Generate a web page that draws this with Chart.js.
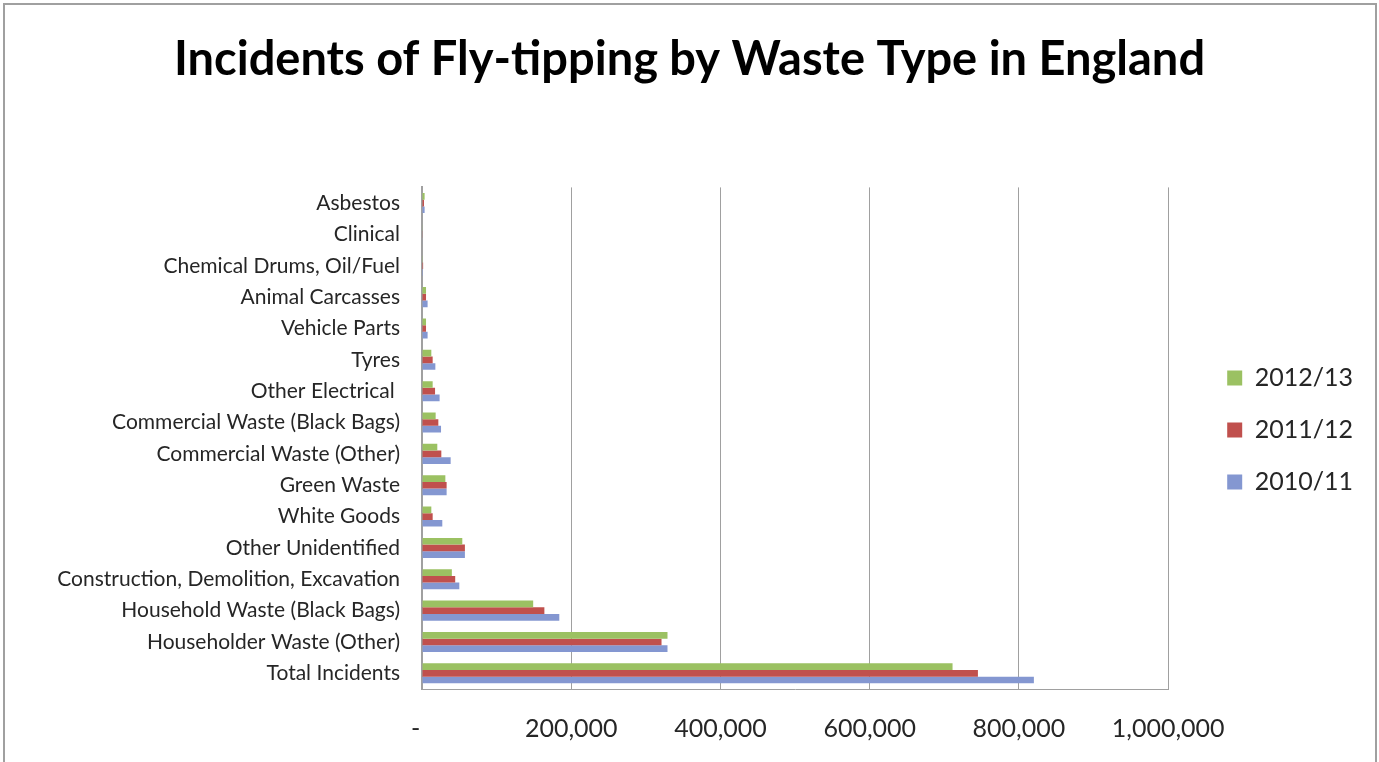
<!DOCTYPE html>
<html>
<head>
<meta charset="utf-8">
<script src="https://cdn.jsdelivr.net/npm/chart.js@4"></script>
<style>
  html, body { margin: 0; padding: 0; background: #fff; overflow: hidden; }
  #wrap { width: 1379px; height: 762px; }
</style>
</head>
<body>
<div id="wrap"><canvas id="flyTippingChart"></canvas></div>
<script>
// Loại chất thải (từ trên xuống dưới)
const wasteTypes = [
    'Asbestos',
    'Clinical',
    'Chemical Drums, Oil/Fuel',
    'Animal Carcasses',
    'Vehicle Parts',
    'Tyres',
    'Other Electrical ',
    'Commercial Waste (Black Bags)',
    'Commercial Waste (Other)',
    'Green Waste',
    'White Goods',
    'Other Unidentified',
    'Construction, Demolition, Excavation',
    'Household Waste (Black Bags)',
    'Householder Waste (Other)',
    'Total Incidents'
];

// Số vụ theo từng năm
const incidents201213 = [3500, 500, 1000, 5400, 5400, 12500, 14300, 18300, 20500, 31300, 12500, 54000, 40000, 149000, 329000, 711000];
const incidents201112 = [2700, 500, 1500, 5400, 5400, 14300, 17500, 21900, 25900, 33000, 14300, 57500, 44500, 164000, 321000, 745000];
const incidents201011 = [3500, 600, 1300, 7500, 7500, 17900, 23600, 25500, 38400, 33000, 27200, 57500, 50000, 184000, 329000, 820000];

const seriesLabels = ['2012/13', '2011/12', '2010/11'];
const seriesColors = ['#9bc162', '#c0504d', '#8497d1'];

// Trục X
const xTicks = [0, 200000, 400000, 600000, 800000, 1000000];

const fontFamily = 'Lato, "Open Sans", sans-serif';

// Nền trắng và khung viền xám
const framePlugin = {
    id: 'frame',
    beforeDraw(chart) {
        const c = chart.ctx;
        c.save();
        c.fillStyle = '#ffffff';
        c.fillRect(0, 0, chart.width, chart.height);
        c.strokeStyle = '#a0a0a0';
        c.lineWidth = 2;
        c.strokeRect(4, 4, chart.width - 7, chart.height + 40);
        c.restore();
    }
};

// Dời chú thích sang phải và xuống dưới một chút
const legendNudge = {
    id: 'legendNudge',
    afterLayout(chart) {
        const lg = chart.legend;
        lg.left += 32; lg.right += 32;
        lg.top += 49; lg.bottom += 49;
    }
};

const ctx = document.getElementById('flyTippingChart').getContext('2d');

const flyTippingChart = new Chart(ctx, {
    type: 'bar',
    data: {
        labels: wasteTypes,
        datasets: [
            { label: seriesLabels[0], data: incidents201213, backgroundColor: seriesColors[0] },
            { label: seriesLabels[1], data: incidents201112, backgroundColor: seriesColors[1] },
            { label: seriesLabels[2], data: incidents201011, backgroundColor: seriesColors[2] }
        ]
    },
    options: {
        indexAxis: 'y',
        responsive: true,
        maintainAspectRatio: false,
        animation: false,
        layout: { padding: { left: 48, right: 48, top: 0, bottom: 0 } },
        datasets: {
            bar: { barPercentage: 1.0, categoryPercentage: 0.64, borderWidth: 0 }
        },
        plugins: {
            title: {
                display: true,
                text: 'Incidents of Fly-tipping by Waste Type in England',
                color: '#000000',
                font: { family: fontFamily, size: 47, weight: 'bold', lineHeight: 1.2 },
                padding: { top: 32, bottom: 99 }
            },
            legend: {
                position: 'right',
                labels: {
                    boxWidth: 15,
                    boxHeight: 15,
                    padding: 27,
                    color: '#262626',
                    font: { family: fontFamily, size: 25 }
                }
            },
            tooltip: { enabled: false }
        },
        scales: {
            x: {
                min: 0,
                max: 1000000,
                afterBuildTicks: (scale) => { scale.ticks = xTicks.map(v => ({ value: v })); },
                afterFit: (scale) => { scale.height = 73; },
                grid: { color: '#a0a0a0', lineWidth: 1, drawTicks: false },
                border: { display: true, color: '#a0a0a0', width: 1 },
                ticks: {
                    padding: 25,
                    color: '#262626',
                    font: { family: fontFamily, size: 25 },
                    callback: (v) => v === 0 ? '-  ' : Number(v).toLocaleString('en-US')
                }
            },
            y: {
                afterFit: (scale) => { scale.width = 374; },
                grid: { display: false, drawTicks: false },
                border: { display: true, color: '#a0a0a0', width: 2 },
                ticks: {
                    padding: 22,
                    color: '#262626',
                    font: { family: fontFamily, size: 21 }
                }
            }
        }
    },
    plugins: [framePlugin, legendNudge]
});
</script>
</body>
</html>
